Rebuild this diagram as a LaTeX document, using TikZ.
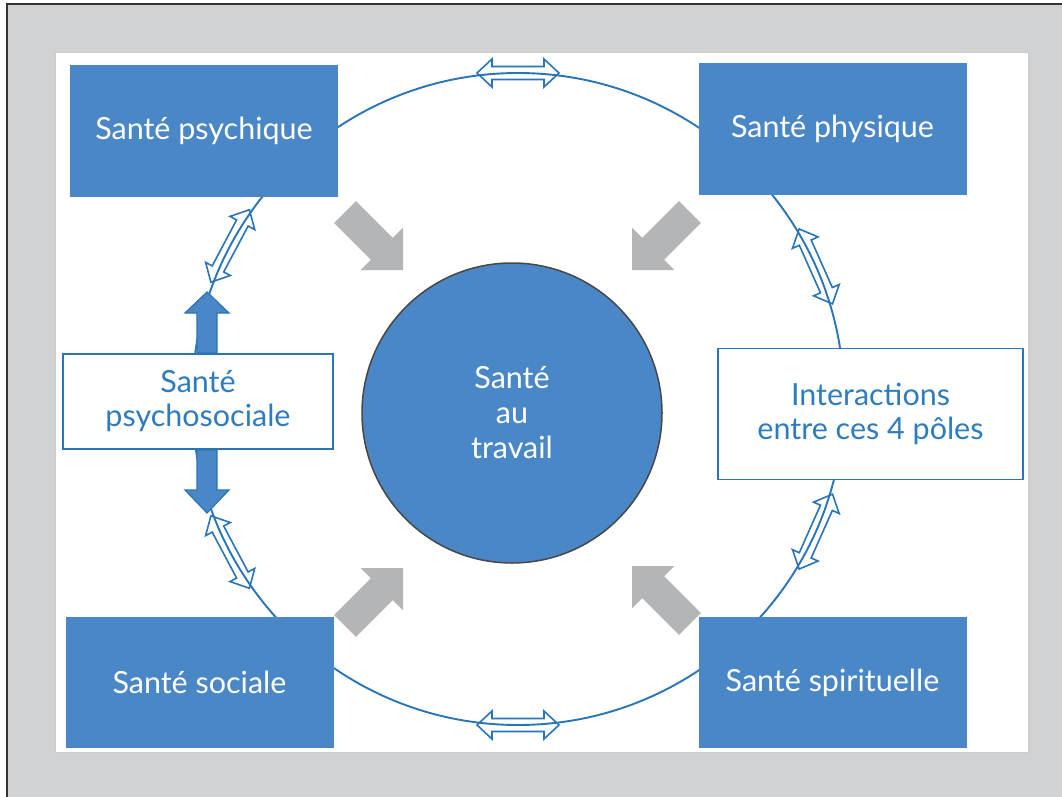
\documentclass[tikz,border=0pt]{standalone}
\usepackage{fontspec}
\setmainfont{Lato}
\definecolor{bggray}{HTML}{D1D2D4}
\definecolor{boxblue}{HTML}{4A87C6}
\definecolor{lineblue}{HTML}{2A74BA}
\definecolor{txtblue}{HTML}{2E7CC0}
\definecolor{arrgray}{HTML}{B4B5B7}
\definecolor{framedark}{HTML}{333333}
\tikzset{
  bluebox/.style={rectangle, fill=boxblue, draw=none, text=white, inner sep=0pt,
    minimum width=268pt, minimum height=131pt, font=\fontsize{30.5}{34}\selectfont},
  whitebox/.style={rectangle, fill=white, draw=lineblue, line width=1.8pt, text=txtblue,
    inner sep=0pt, align=center, font=\fontsize{30.5}{34}\selectfont},
  dblarr/.style={draw=lineblue, line width=1.6pt, line join=miter},
  grayarr/.style={fill=arrgray, draw=none},
  fillarr/.style={fill=boxblue, draw=lineblue, line width=1.2pt},
}
\newcommand\dblarrow[1]{%
  \begin{scope}[shift={(C)}, rotate=#1, shift={(326,0)}, rotate=90]
    \draw[dblarr] (-41,0) -- (-26,14) -- (-26,6.5) -- (26,6.5) -- (26,14) -- (41,0)
      -- (26,-14) -- (26,-6.5) -- (-26,-6.5) -- (-26,-14) -- cycle;
  \end{scope}}
\newcommand\grayarrow[2]{%
  \begin{scope}[shift={(#1)}, rotate=#2]
    \fill[grayarr] (0,0) -- (-30,30) -- (-30,15.5) -- (-82,15.5) -- (-82,-15.5) -- (-30,-15.5) -- (-30,-30) -- cycle;
  \end{scope}}
\begin{document}
\begin{tikzpicture}[x=1pt,y=-1pt]
\useasboundingbox (0,0) rectangle (1062,797);
\fill[white] (0,0) rectangle (1062,797);
\fill[bggray] (7,4) rectangle (1062,797);
\draw[framedark, line width=2pt] (7,797) -- (7,4) -- (1062,4);
\fill[white] (55,52) rectangle (1028,752);
\draw[gray!40, line width=0.8pt] (55,52) rectangle (1028,752);

\coordinate (C) at (518,399);
\draw[lineblue, line width=1.9pt] (C) circle[radius=326];

% double arrows on the circle
\dblarrow{90}
\dblarrow{270}
\dblarrow{152}
\dblarrow{208}
\dblarrow{24}
\dblarrow{336}

% corner boxes
\node[bluebox] (psy) at (204,131) {Santé psychique};
\node[bluebox, minimum height=132pt] (phy) at (832.5,129) {Santé physique};
\node[bluebox] (soc) at (199.5,682.5) {Santé sociale};
\node[bluebox] (spi) at (832.5,682.5) {Santé spirituelle};

% side boxes
\node[whitebox, minimum width=270pt, minimum height=95pt] (psoc) at (198,401.5) {Santé\\psychosociale};
\node[whitebox, minimum width=305pt, minimum height=131pt] (inter) at (870.5,414) {Interactions\\entre ces 4 pôles};

% filled blue arrows from psychosocial box
\coordinate (upbase) at (207,353);
\coordinate (dnbase) at (207,450);
\filldraw[fillarr] (upbase) ++(-10,0) -- ++(0,-40) -- ++(-12,0) -- (207,292) -- (229,313) -- ++(-12,0) -- ++(0,40) -- cycle;
\filldraw[fillarr] (dnbase) ++(-10,0) -- ++(0,40) -- ++(-12,0) -- (207,513) -- (229,490) -- ++(-12,0) -- ++(0,-40) -- cycle;

% central circle
\node[circle, fill=boxblue, draw=framedark!90, line width=1.5pt, minimum size=300pt, inner sep=0pt,
  text=white, align=center, font=\fontsize{30.5}{35}\selectfont] (center) at (512,413) {Santé\\au\\travail};

% gray arrows
\grayarrow{403,270}{-45}
\grayarrow{632,270}{-135}
\grayarrow{403,568}{45}
\grayarrow{632,566}{135}
\end{tikzpicture}
\end{document}
